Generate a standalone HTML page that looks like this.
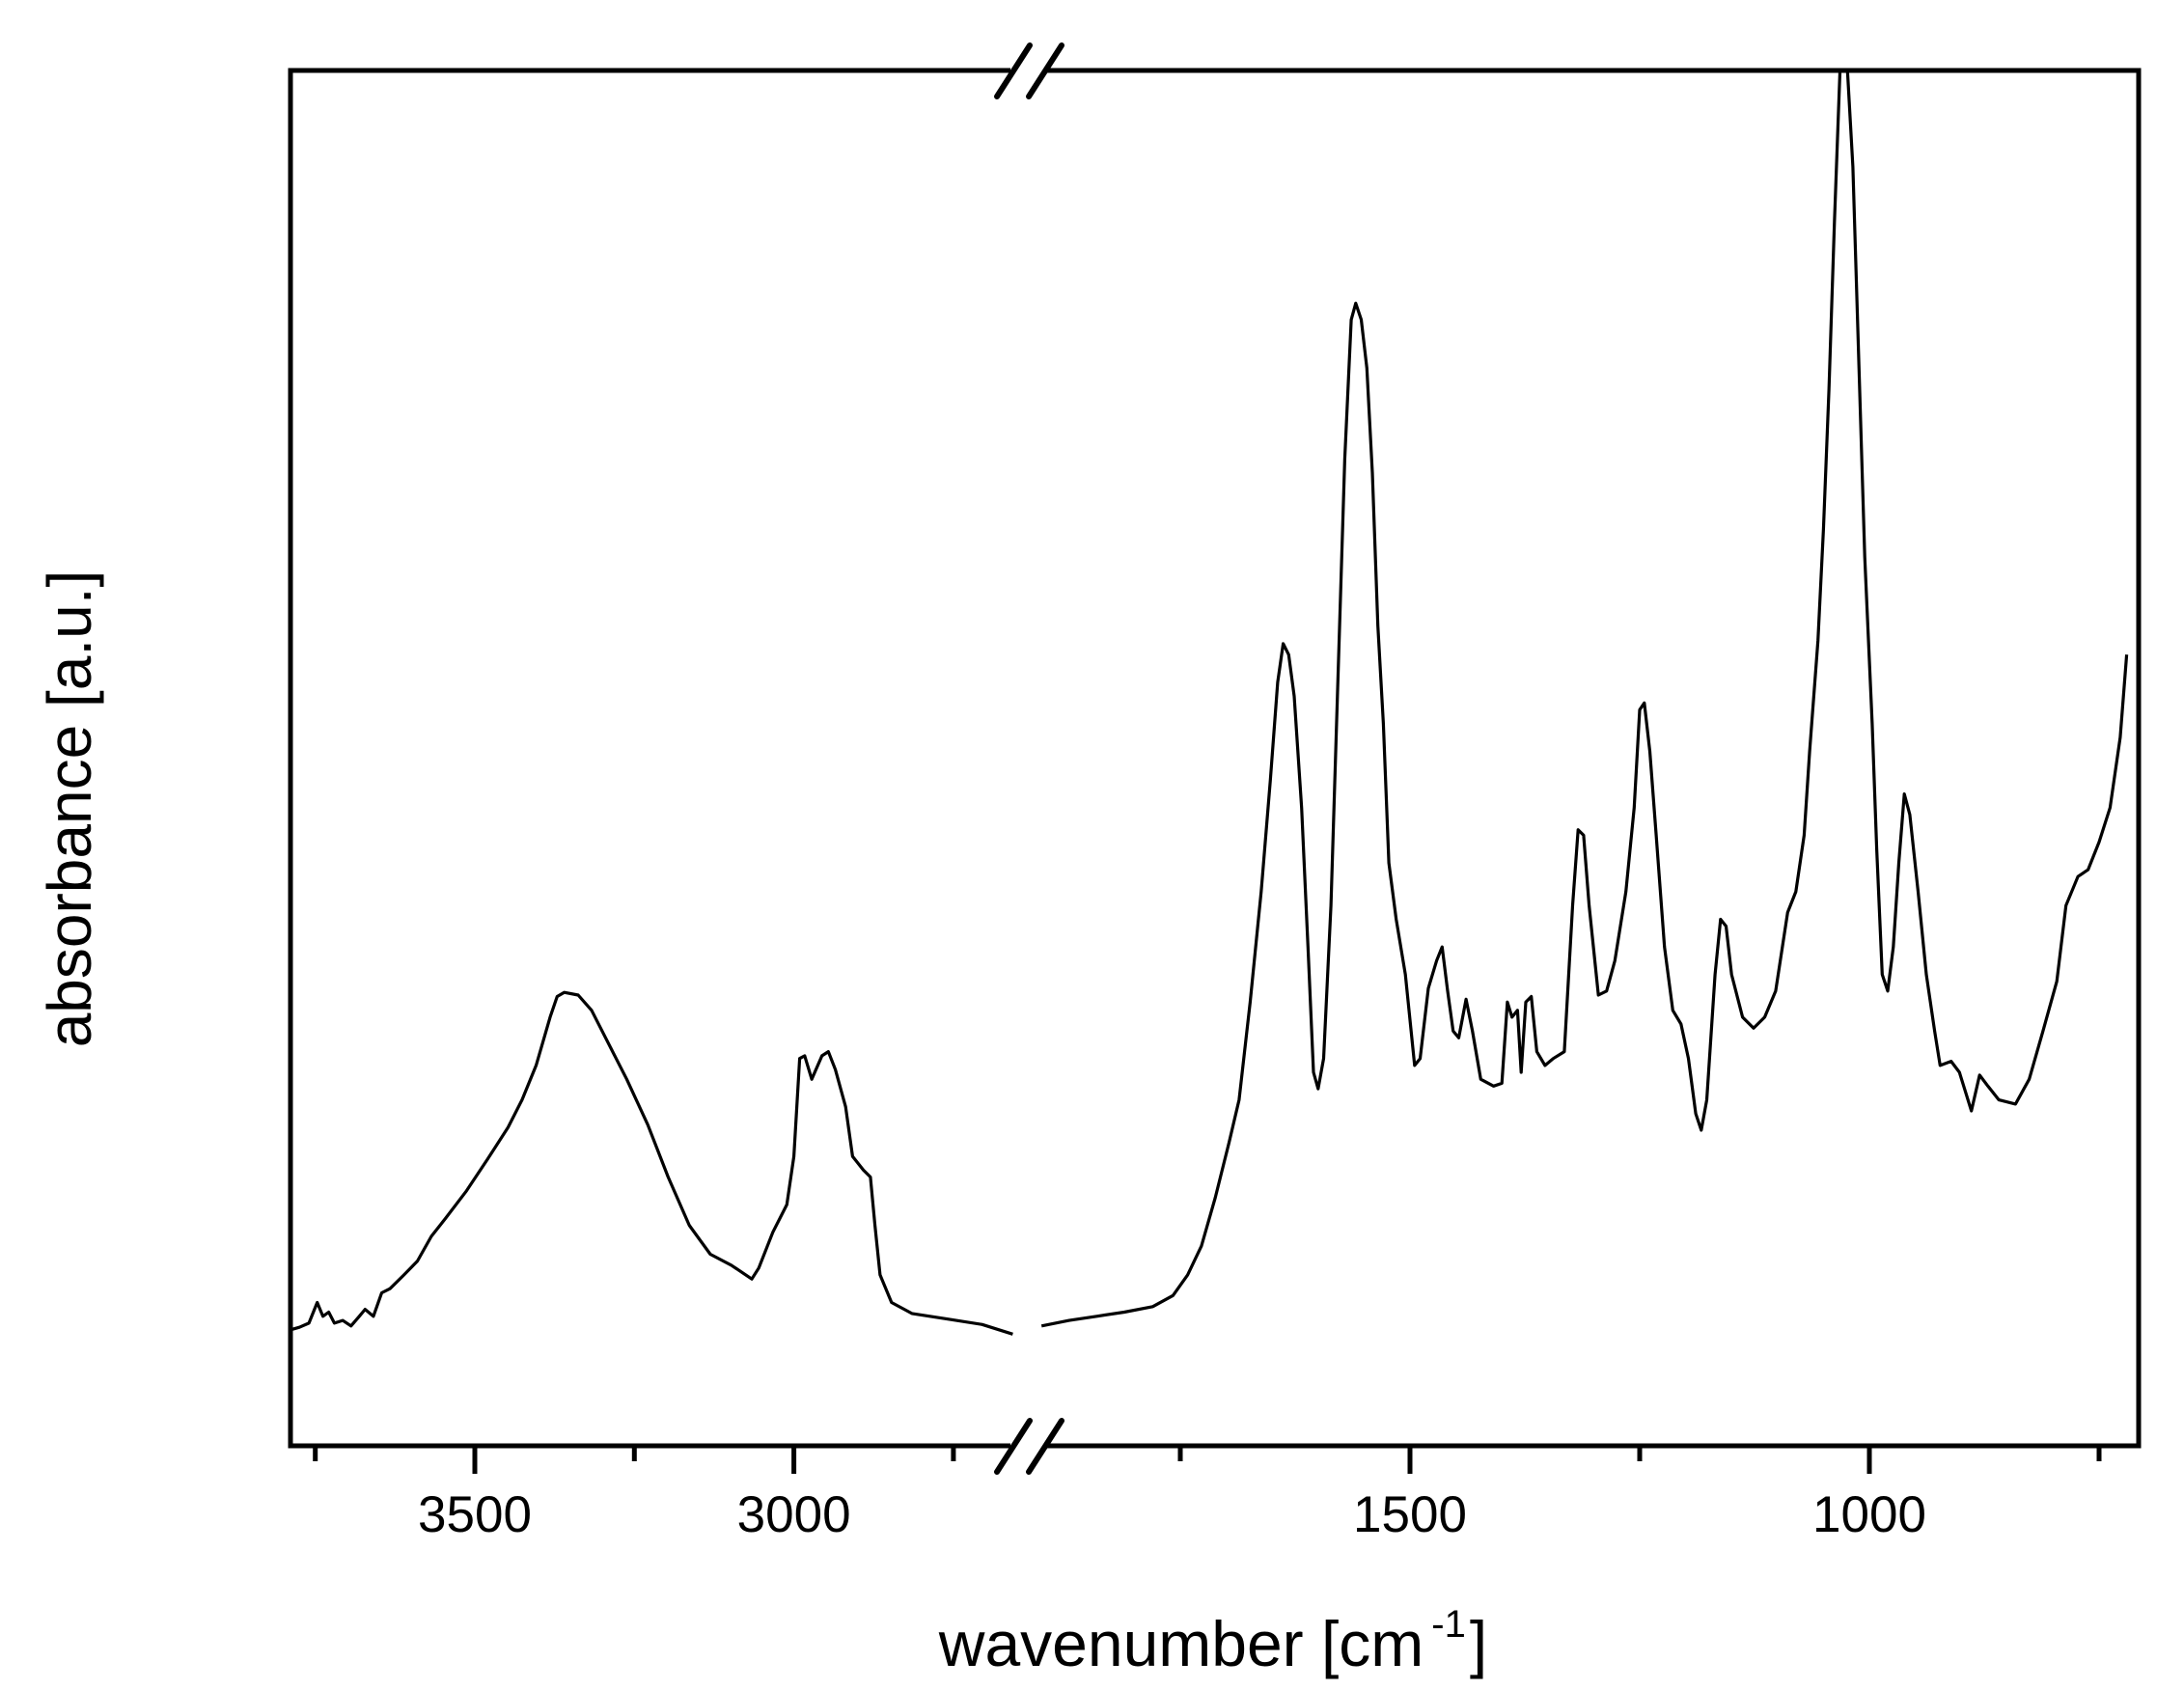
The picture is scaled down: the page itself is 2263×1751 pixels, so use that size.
<!DOCTYPE html>
<html><head><meta charset="utf-8"><style>
html,body{margin:0;padding:0;background:#fff}
svg{display:block}
text{font-family:"Liberation Sans",Arial,sans-serif;fill:#000}
</style></head><body>
<svg id="chart" width="2263" height="1751" viewBox="0 0 2263 1751" xmlns="http://www.w3.org/2000/svg">
<g id="plot"></g>
<text x="1257" y="1726" font-size="66" text-anchor="middle">wavenumber [cm<tspan dx="8" dy="-30" font-size="40">-1</tspan><tspan dx="4" dy="30">]</tspan></text>
<text transform="translate(94,838) rotate(-90)" font-size="64" text-anchor="middle">absorbance [a.u.]</text>
</svg>
<script>
const leftWn=[3790,3775,3760,3747,3738,3729,3720,3707,3694,3681,3672,3659,3646,3633,3611,3590,3568,3546,3513,3480,3448,3426,3404,3382,3371,3360,3338,3317,3295,3262,3229,3197,3164,3131,3098,3066,3055,3033,3011,3000,2991,2983,2972,2956,2946,2935,2919,2908,2891,2880,2873,2865,2847,2815,2760,2705,2657];
const leftAbs=[.084,.086,.089,.104,.094,.097,.089,.091,.087,.094,.099,.094,.111,.114,.124,.134,.152,.165,.185,.208,.231,.251,.276,.311,.326,.329,.327,.316,.296,.266,.233,.195,.160,.139,.131,.121,.129,.155,.175,.210,.281,.283,.266,.283,.286,.273,.246,.210,.200,.195,.160,.124,.104,.096,.092,.088,.081];
const rightWn=[1901,1871,1841,1811,1780,1758,1742,1727,1712,1697,1686,1674,1662,1652,1644,1638,1632,1626,1618,1611,1605,1600,1594,1586,1579,1571,1564,1559,1553,1547,1541,1535,1529,1523,1515,1505,1495,1489,1480,1471,1465,1459,1453,1447,1439,1432,1423,1409,1400,1394,1389,1383,1379,1374,1368,1362,1353,1344,1332,1323,1317,1311,1305,1295,1286,1277,1265,1256,1250,1245,1239,1232,1223,1214,1205,1197,1189,1183,1177,1168,1162,1156,1150,1138,1126,1114,1102,1089,1080,1071,1065,1056,1050,1044,1038,1032,1024,1018,1012,1005,997,992,986,980,974,968,962,956,947,938,929,923,911,902,889,880,871,859,841,826,811,796,786,773,762,750,738,727,720];
const rightAbs=[.087,.091,.094,.097,.101,.109,.124,.145,.180,.220,.251,.322,.402,.483,.554,.582,.574,.544,.463,.362,.271,.259,.281,.392,.544,.716,.817,.829,.817,.782,.706,.595,.524,.423,.382,.342,.276,.281,.332,.352,.362,.330,.301,.296,.324,.301,.266,.261,.263,.322,.311,.316,.271,.322,.326,.286,.276,.281,.286,.392,.447,.443,.392,.327,.330,.352,.402,.463,.534,.539,.504,.443,.362,.316,.306,.281,.241,.229,.251,.342,.382,.377,.342,.311,.303,.311,.330,.387,.402,.443,.504,.584,.665,.766,.888,.997,.999,.928,.797,.645,.524,.433,.342,.330,.362,.423,.473,.458,.402,.342,.301,.276,.279,.271,.243,.269,.261,.251,.248,.266,.301,.337,.392,.413,.418,.438,.463,.514,.574];
const majorLeft=[3500,3000], minorLeft=[3750,3250,2750];
const majorRight=[1500,1000], minorRight=[1750,1250,750];
const tickLabelsLeft=["3500","3000"], tickLabelsRight=["1500","1000"];

const L=301,R=2216,T=73,B=1498;
function xl(w){return 492+(3500-w)*330.6/500;}
function xr(w){return 1461+(1500-w)*476/500;}
function y(a){return B-a*1428;}
const NS="http://www.w3.org/2000/svg";
const g=document.getElementById('plot');
function mk(tag,attrs,parent){const e=document.createElementNS(NS,tag);for(const k in attrs)e.setAttribute(k,attrs[k]);(parent||g).appendChild(e);return e;}

const clip=mk('clipPath',{id:'clp'});mk('rect',{x:L,y:T,width:R-L,height:B-T},clip);
let d1=leftWn.map((w,i)=>(i?'L':'M')+xl(w).toFixed(1)+','+y(leftAbs[i]).toFixed(1)).join('');
let s1=mk('path',{d:d1,fill:'none',stroke:'#000','stroke-width':3.2,'stroke-linejoin':'round','clip-path':'url(#clp)'});


let d2=rightWn.map((w,i)=>(i?'L':'M')+xr(w).toFixed(1)+','+y(rightAbs[i]).toFixed(1)).join('');
let s2=mk('path',{d:d2,fill:'none',stroke:'#000','stroke-width':3.2,'stroke-linejoin':'round','clip-path':'url(#clp)'});



let f=mk('g',{});


mk('line',{x1:L-2.5,y1:T,x2:1047,y2:T,stroke:'#000','stroke-width':5},f);
mk('line',{x1:1085,y1:T,x2:R+2.5,y2:T,stroke:'#000','stroke-width':5},f);
mk('line',{x1:L-2.5,y1:B,x2:1047,y2:B,stroke:'#000','stroke-width':5},f);
mk('line',{x1:1085,y1:B,x2:R+2.5,y2:B,stroke:'#000','stroke-width':5},f);
mk('line',{x1:L,y1:T,x2:L,y2:B,stroke:'#000','stroke-width':5},f);
mk('line',{x1:R,y1:T,x2:R,y2:B,stroke:'#000','stroke-width':5},f);

[[T,'axis-break-top'],[B,'axis-break-bottom']].forEach(([yy,n])=>{
  const bg=mk('g',{});
  
  
  mk('line',{x1:1033,y1:yy+27,x2:1067,y2:yy-26,stroke:'#000','stroke-width':6,'stroke-linecap':'round'},bg);
  mk('line',{x1:1066,y1:yy+27,x2:1100,y2:yy-26,stroke:'#000','stroke-width':6,'stroke-linecap':'round'},bg);
});

function tick(x,len,name){const t=mk('line',{x1:x,y1:B+2,x2:x,y2:B+len,stroke:'#000','stroke-width':5});
  
  }
majorLeft.forEach((w,i)=>{tick(xl(w),29,'x-tick-'+w);const t=mk('text',{x:xl(w),y:1587,'font-size':53,'text-anchor':'middle'});t.textContent=tickLabelsLeft[i];
  
  });
majorRight.forEach((w,i)=>{tick(xr(w),29,'x-tick-'+w);const t=mk('text',{x:xr(w),y:1587,'font-size':53,'text-anchor':'middle'});t.textContent=tickLabelsRight[i];
  
  });
minorLeft.forEach(w=>tick(xl(w),16,'x-minor-tick-'+w));
minorRight.forEach(w=>tick(xr(w),16,'x-minor-tick-'+w));
</script>
</body></html>
